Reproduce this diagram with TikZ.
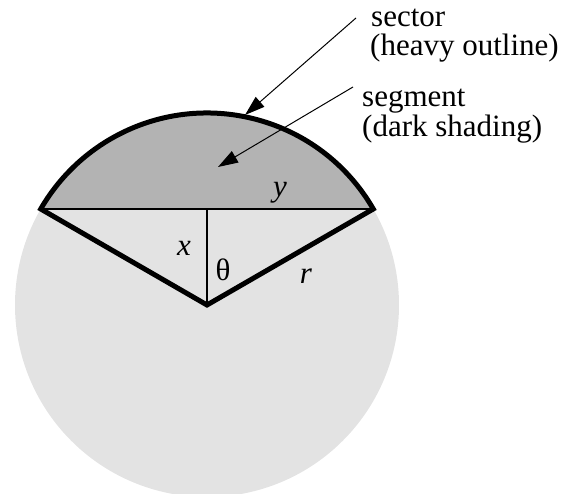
\documentclass[tikz,border=0pt]{standalone}
\usepackage{fontspec}
\setmainfont{Liberation Serif}
\usetikzlibrary{arrows.meta}
\definecolor{segdark}{HTML}{B3B3B3}
\definecolor{circlight}{HTML}{E3E3E3}
\begin{document}
\begin{tikzpicture}[x=1pt,y=1pt,
  lbl/.style={font=\fontsize{31}{34}\selectfont, inner sep=0pt},
  heavy/.style={line width=5pt, line join=miter},
  thinline/.style={line width=1.8pt},
  pointer/.style={line width=1pt, -{Triangle[length=20pt,width=13pt]}}]
\useasboundingbox (0,0) rectangle (574,494);
\coordinate (O) at (207,189);
\coordinate (A) at (373.28,285);
\coordinate (B) at (40.72,285);
\coordinate (M) at (207,285);
\begin{scope}
\clip (0,0) rectangle (574,494);
\fill[circlight] (O) circle (192);
\end{scope}
\fill[segdark] (A) arc[start angle=30,end angle=150,radius=192] -- cycle;
\draw[thinline] (A) -- (B);
\draw[thinline] (O) -- (M);
\draw[heavy] (O) -- (A) arc[start angle=30,end angle=150,radius=192] -- cycle;
% labels
\node[lbl, anchor=base] (ylab) at (280,297) {\textit{y}};
\node[lbl, anchor=base] (xlab) at (184,238) {\textit{x}};
\node[lbl, anchor=base] (tlab) at (223,213) {θ};
\node[lbl, anchor=base] (rlab) at (306,210) {\textit{r}};
% callouts
\node[lbl, anchor=base west] (sec1) at (371,467) {sector};
\node[lbl, anchor=base west] (sec2) at (370,438) {(heavy outline)};
\node[lbl, anchor=base west] (seg1) at (362,387) {segment};
\node[lbl, anchor=base west] (seg2) at (362,357) {(dark shading)};
\coordinate (t1) at (356,476);
\coordinate (h1) at (245,379);
\coordinate (t2) at (353,407);
\coordinate (h2) at (218,327);
\draw[pointer] (t1) -- (h1);
\draw[pointer] (t2) -- (h2);
\end{tikzpicture}
\end{document}
